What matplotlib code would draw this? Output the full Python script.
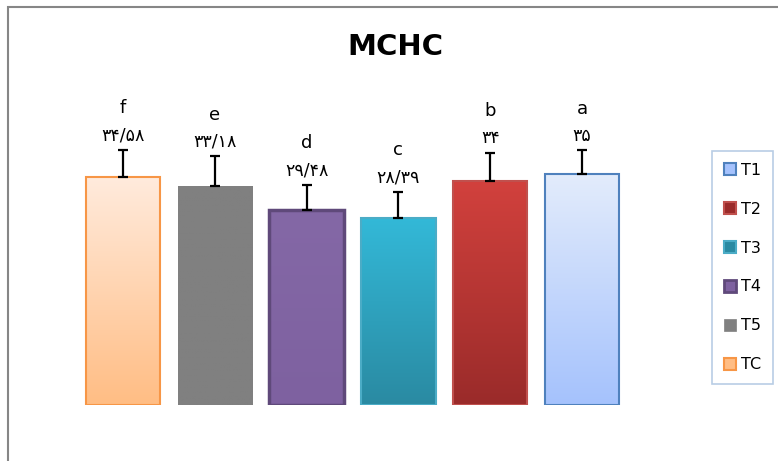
import matplotlib.pyplot as plt
import numpy as np
from matplotlib.patches import Patch, Rectangle
from matplotlib.colors import LinearSegmentedColormap

groups = ['TC', 'T5', 'T4', 'T3', 'T2', 'T1']
values = [34.58, 33.18, 29.48, 28.39, 34.0, 35.0]
errors = [4.1, 4.5, 3.9, 3.9, 4.2, 3.6]
letters = ['f', 'e', 'd', 'c', 'b', 'a']
labels = ['۳۴/۵۸', '۳۳/۱۸', '۲۹/۴۸', '۲۸/۳۹', '۳۴', '۳۵']

# (top colour, bottom colour, edge colour, edge width)
styles = {
    'TC': ('#FFEBDD', '#FFBD84', '#F79646', 1.5),
    'T5': ('#808080', '#808080', '#808080', 0.5),
    'T4': ('#8468A6', '#7E61A0', '#5F497A', 2.5),
    'T3': ('#33B9D8', '#2A8AA2', '#4BACC6', 1.5),
    'T2': ('#D2413D', '#9A2B2A', '#C0504D', 1.5),
    'T1': ('#E3ECFB', '#A5C2FD', '#4F81BD', 1.5),
}

W, H = 778, 461
fig = plt.figure(figsize=(W / 100, H / 100), dpi=100)
ax = fig.add_axes([77 / W, (H - 405) / H, 551 / W, 345 / H])
ax.set_xlim(-0.5, 5.5)
ax.set_ylim(0, 345 / 6.6)
ax.axis('off')

x = np.arange(len(groups))
bars = ax.bar(x, values, width=0.81, color='none', zorder=2)
grad = np.linspace(0, 1, 256).reshape(-1, 1)
for b, g in zip(bars, groups):
    top, bot, edge, lw = styles[g]
    cmap = LinearSegmentedColormap.from_list(g, [bot, top])
    bx, by = b.get_x(), b.get_y()
    bw, bh = b.get_width(), b.get_height()
    im = ax.imshow(grad, cmap=cmap, origin='lower', aspect='auto',
                   extent=[bx, bx + bw, by, by + bh], zorder=1)
    im.set_clip_path(b)
    b.set_edgecolor(edge)
    b.set_linewidth(lw)

ax.errorbar(x, values, yerr=[np.zeros(len(values)), errors], fmt='none',
            ecolor='black', elinewidth=1.6, capsize=3.5, capthick=1.6, zorder=3)

for xi, v, e, lt, lb in zip(x, values, errors, letters, labels):
    ax.annotate(lb, (xi, v + e), xytext=(0, 10.5), textcoords='offset points',
                ha='center', va='center', fontsize=12.5, family='DejaVu Sans')
    ax.annotate(lt, (xi, v + e), xytext=(0, 30), textcoords='offset points',
                ha='center', va='center', fontsize=13, family='DejaVu Sans')

fig.text(395 / W, 1 - 47 / H, 'MCHC', ha='center', va='center',
         fontsize=21, fontweight='bold', family='DejaVu Sans')

handles = []
for g in ['T1', 'T2', 'T3', 'T4', 'T5', 'TC']:
    top, bot, edge, lw = styles[g]
    handles.append(Patch(facecolor=bot, edgecolor=edge, linewidth=min(lw, 2), label=g))
leg = fig.legend(handles=handles, loc='center', bbox_to_anchor=(742.5 / W, 1 - 267.5 / H),
                 fontsize=11.5, handlelength=0.75, handleheight=0.75, handletextpad=0.35,
                 labelspacing=1.5, borderpad=0.75, borderaxespad=0, fancybox=False,
                 framealpha=1)
leg.get_frame().set_edgecolor('#B9CDE5')
leg.get_frame().set_linewidth(1.2)

# outer chart border (only the top and left edges are inside the picture)
fig.add_artist(Rectangle((7.5 / W, -0.1), 1.2, 1.1 - 7.5 / H, transform=fig.transFigure,
                         fill=False, edgecolor='#868686', linewidth=1.5))

fig.savefig('out.png', dpi=100)
